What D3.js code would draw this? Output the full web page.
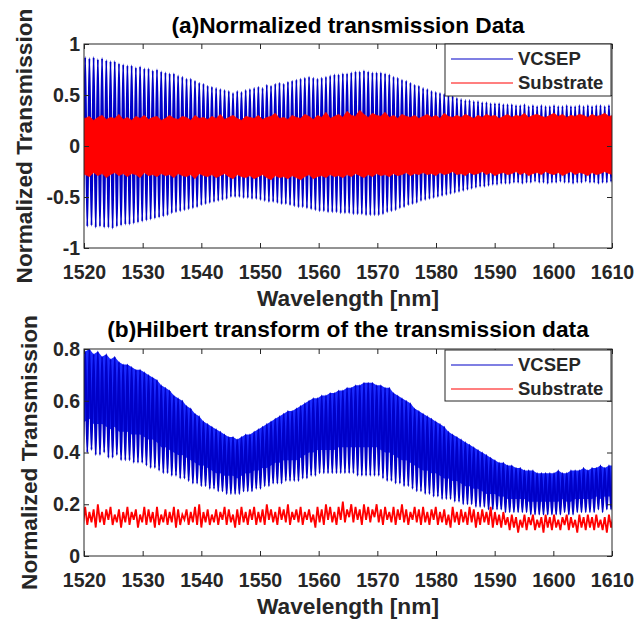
<html>
  <head>
    <meta charset="utf-8" />
    <title>Normalized transmission / Hilbert transform</title>
    <script src="https://d3js.org/d3.v7.min.js"></script>
    <style>
      body { margin: 0; background: #fff; }
      text { font-family: "Liberation Sans", Arial, sans-serif; font-weight: bold; }
    </style>
  </head>
  <body>
    <svg id="chart" width="636" height="622"></svg>

    <script>
      // 0. Data (one value per fringe)
      const fringeNm = [
        1519.48,
        1520.20, 1520.92, 1521.64, 1522.36, 1523.08, 1523.80, 1524.52, 1525.24, 1525.96, 1526.68,
        1527.40, 1528.12, 1528.84, 1529.56, 1530.28, 1531.00, 1531.72, 1532.44, 1533.16, 1533.88,
        1534.60, 1535.32, 1536.04, 1536.76, 1537.48, 1538.20, 1538.92, 1539.64, 1540.36, 1541.08,
        1541.80, 1542.52, 1543.24, 1543.96, 1544.68, 1545.40, 1546.12, 1546.84, 1547.56, 1548.28,
        1549.00, 1549.72, 1550.44, 1551.16, 1551.88, 1552.60, 1553.32, 1554.04, 1554.76, 1555.48,
        1556.20, 1556.92, 1557.64, 1558.36, 1559.08, 1559.80, 1560.52, 1561.24, 1561.96, 1562.68,
        1563.40, 1564.12, 1564.84, 1565.56, 1566.28, 1567.00, 1567.72, 1568.44, 1569.16, 1569.88,
        1570.60, 1571.32, 1572.04, 1572.76, 1573.48, 1574.20, 1574.92, 1575.64, 1576.36, 1577.08,
        1577.80, 1578.52, 1579.24, 1579.96, 1580.68, 1581.40, 1582.12, 1582.84, 1583.56, 1584.28,
        1585.00, 1585.72, 1586.44, 1587.16, 1587.88, 1588.60, 1589.32, 1590.04, 1590.76, 1591.48,
        1592.20, 1592.92, 1593.64, 1594.36, 1595.08, 1595.80, 1596.52, 1597.24, 1597.96, 1598.68,
        1599.40, 1600.12, 1600.84, 1601.56, 1602.28, 1603.00, 1603.72, 1604.44, 1605.16, 1605.88,
        1606.60, 1607.32, 1608.04, 1608.76, 1609.48,
        1610.20
      ];

      // (a) normalized transmission
      const vcselHiA = [
        .86,
        .87, .86, .87, .85, .86, .84, .83, .83, .81, .80, .79, .79, .77, .78, .76, .76, .74, .75, .73, .72,
        .71, .71, .69, .68, .66, .66, .64, .62, .61, .59, .58, .57, .56, .55, .54, .52, .54, .53, .55, .56,
        .57, .58, .57, .60, .59, .61, .62, .61, .63, .64, .65, .66, .67, .68, .67, .66, .67, .68, .69, .70,
        .70, .71, .71, .72, .73, .73, .74, .73, .72, .72, .72, .71, .70, .68, .67, .65, .64, .62, .60, .59,
        .57, .56, .54, .53, .52, .51, .50, .49, .47, .46, .45, .45, .44, .44, .43, .43, .42, .42, .42, .41,
        .41, .41, .40, .40, .41, .39, .40, .39, .40, .39, .39, .40, .39, .39, .40, .39, .39, .40, .39, .40,
        .39, .40, .40, .39, .40,
        .40
      ];
      const vcselLoA = [
        -.78,
        -.79, -.78, -.80, -.79, -.80, -.80, -.81, -.79, -.78, -.77, -.77, -.76, -.75, -.74, -.73, -.72, -.71, -.70, -.69, -.68,
        -.66, -.65, -.64, -.63, -.62, -.61, -.60, -.58, -.57, -.56, -.55, -.54, -.53, -.52, -.50, -.50, -.50, -.51, -.51, -.52,
        -.52, -.53, -.54, -.55, -.55, -.56, -.57, -.57, -.58, -.59, -.60, -.60, -.61, -.62, -.63, -.64, -.64, -.65, -.65, -.65,
        -.66, -.66, -.66, -.67, -.67, -.67, -.68, -.68, -.68, -.68, -.67, -.65, -.64, -.63, -.61, -.60, -.58, -.57, -.56, -.54,
        -.53, -.52, -.51, -.50, -.49, -.48, -.47, -.46, -.45, -.44, -.43, -.42, -.41, -.40, -.40, -.39, -.38, -.38, -.37, -.37,
        -.37, -.36, -.36, -.37, -.36, -.36, -.35, -.36, -.36, -.37, -.36, -.36, -.35, -.36, -.36, -.37, -.36, -.36, -.35, -.36,
        -.36, -.37, -.36, -.36, -.35,
        -.36
      ];
      const substrateHiA = [
        .29,
        .27, .29, .25, .28, .30, .26, .28, .27, .31, .26, .28, .25, .29, .27, .30, .26, .28, .29, .25, .27,
        .30, .27, .26, .29, .28, .25, .30, .27, .28, .26, .29, .27, .31, .26, .28, .30, .27, .25, .29, .28,
        .27, .30, .26, .28, .29, .32, .27, .28, .26, .30, .28, .27, .31, .29, .26, .30, .28, .33, .27, .29,
        .31, .28, .34, .30, .29, .35, .31, .28, .32, .30, .29, .33, .28, .30, .27, .31, .29, .28, .30, .27,
        .29, .31, .28, .30, .27, .32, .29, .28, .30, .28, .31, .29, .27, .30, .28, .31, .29, .30, .27, .29,
        .31, .28, .30, .29, .32, .28, .30, .31, .29, .28, .30, .32, .29, .31, .28, .30, .29, .31, .30, .28,
        .31, .29, .30, .32, .29,
        .30
      ];
      const substrateLoA = [
        -.27,
        -.28, -.30, -.26, -.29, -.27, -.31, -.28, -.26, -.29, -.27, -.30, -.27, -.28, -.31, -.26, -.29, -.28, -.30, -.27, -.29,
        -.28, -.31, -.27, -.29, -.30, -.28, -.32, -.27, -.29, -.30, -.28, -.31, -.29, -.27, -.30, -.32, -.28, -.30, -.31, -.29,
        -.32, -.30, -.28, -.31, -.33, -.29, -.31, -.30, -.32, -.29, -.31, -.33, -.30, -.28, -.32, -.30, -.29, -.31, -.28, -.30,
        -.29, -.31, -.28, -.30, -.27, -.29, -.31, -.28, -.30, -.27, -.29, -.28, -.30, -.27, -.29, -.28, -.26, -.29, -.27, -.28,
        -.26, -.28, -.27, -.29, -.26, -.28, -.27, -.25, -.28, -.27, -.29, -.26, -.28, -.27, -.25, -.28, -.26, -.29, -.27, -.26,
        -.28, -.27, -.25, -.28, -.26, -.29, -.27, -.26, -.28, -.25, -.27, -.28, -.26, -.29, -.27, -.25, -.28, -.26, -.27, -.29,
        -.26, -.28, -.27, -.25, -.27,
        -.28
      ];

      // (b) Hilbert transform
      const vcselHiB = [
        .78,
        .79, .80, .78, .79, .77, .78, .76, .77, .75, .74, .74, .73, .72, .72, .71, .70, .69, .68, .66, .65,
        .64, .62, .61, .60, .58, .57, .55, .54, .52, .51, .50, .49, .48, .47, .46, .46, .45, .46, .47, .47,
        .48, .49, .50, .51, .52, .53, .54, .55, .56, .56, .57, .58, .59, .60, .61, .61, .62, .62, .63, .63,
        .64, .64, .65, .65, .66, .66, .67, .67, .67, .66, .66, .65, .65, .63, .62, .61, .60, .59, .57, .56,
        .55, .54, .53, .52, .51, .50, .48, .47, .46, .45, .44, .43, .42, .41, .40, .39, .38, .37, .36, .36,
        .35, .35, .34, .34, .33, .33, .33, .32, .32, .32, .32, .32, .33, .32, .32, .33, .33, .33, .34, .33,
        .34, .34, .35, .34, .35,
        .35
      ];
      const vcselCoreB = [
        .51,
        .52, .53, .51, .51, .51, .50, .49, .50, .48, .48, .48, .47, .47, .47, .46, .45, .45, .44, .42, .42,
        .41, .40, .39, .39, .38, .37, .36, .35, .35, .34, .33, .32, .32, .31, .31, .31, .30, .31, .32, .32,
        .33, .33, .34, .34, .35, .36, .36, .37, .37, .37, .37, .38, .39, .40, .40, .41, .41, .41, .41, .41,
        .42, .42, .42, .42, .42, .42, .42, .42, .42, .42, .41, .40, .40, .39, .38, .37, .37, .36, .35, .34,
        .33, .33, .32, .32, .31, .30, .30, .29, .29, .28, .27, .27, .26, .26, .25, .24, .24, .24, .23, .23,
        .22, .22, .22, .22, .22, .21, .21, .21, .21, .21, .21, .21, .21, .22, .21, .21, .22, .22, .22, .22,
        .22, .23, .22, .23, .23,
        .23
      ];
      const vcselLoB = [
        .40,
        .40, .41, .39, .39, .40, .38, .38, .39, .37, .37, .37, .36, .36, .36, .35, .34, .34, .33, .32, .32,
        .31, .31, .30, .30, .29, .28, .28, .27, .27, .26, .26, .25, .25, .24, .24, .24, .24, .25, .25, .25,
        .26, .26, .27, .27, .28, .28, .28, .29, .29, .29, .29, .30, .30, .31, .31, .32, .32, .32, .32, .32,
        .32, .32, .32, .32, .31, .31, .31, .31, .31, .31, .30, .29, .29, .28, .28, .27, .27, .26, .25, .25,
        .24, .24, .23, .23, .22, .22, .22, .21, .21, .20, .20, .20, .19, .19, .19, .18, .18, .18, .18, .17,
        .17, .17, .17, .17, .17, .16, .16, .16, .16, .16, .16, .16, .16, .17, .16, .16, .17, .17, .17, .17,
        .17, .18, .17, .18, .18,
        .18
      ];
      const substrateHiB = [
        .18,
        .19, .17, .18, .20, .17, .18, .19, .16, .18, .17, .19, .17, .18, .16, .19, .18, .17, .19, .16, .18,
        .17, .19, .18, .16, .18, .17, .19, .20, .17, .18, .16, .18, .17, .19, .18, .16, .18, .19, .17, .18,
        .19, .17, .18, .20, .18, .17, .19, .18, .20, .17, .18, .19, .17, .18, .16, .19, .18, .20, .19, .17,
        .19, .21, .18, .20, .19, .18, .20, .19, .18, .20, .18, .19, .17, .19, .18, .20, .18, .17, .19, .18,
        .19, .17, .18, .19, .17, .18, .16, .19, .17, .18, .17, .19, .18, .17, .18, .17, .19, .17, .16, .17,
        .15, .16, .15, .14, .16, .15, .16, .14, .15, .16, .15, .16, .14, .15, .16, .15, .14, .16, .15, .16,
        .15, .16, .14, .15, .16,
        .15
      ];
      const substrateLoB = [
        .12,
        .12, .13, .11, .13, .12, .14, .12, .13, .11, .13, .12, .14, .11, .13, .12, .13, .11, .12, .13, .12,
        .13, .11, .12, .14, .12, .13, .12, .11, .13, .12, .13, .12, .14, .12, .13, .11, .12, .13, .12, .14,
        .12, .13, .12, .14, .13, .12, .14, .13, .12, .14, .13, .12, .14, .13, .11, .13, .12, .14, .13, .12,
        .14, .13, .15, .13, .14, .12, .14, .13, .15, .13, .12, .14, .13, .12, .14, .13, .12, .14, .13, .12,
        .13, .12, .14, .12, .13, .12, .11, .13, .12, .13, .12, .13, .11, .12, .13, .12, .11, .12, .11, .12,
        .10, .11, .09, .11, .10, .12, .10, .11, .09, .11, .10, .11, .10, .12, .10, .11, .09, .11, .10, .11,
        .10, .11, .10, .09, .11,
        .10
      ];

      const xTicks = [1520, 1530, 1540, 1550, 1560, 1570, 1580, 1590, 1600, 1610];
      const yTicksA = [-1, -0.5, 0, 0.5, 1];
      const yTicksB = [0, 0.2, 0.4, 0.6, 0.8];
      const seriesNames = ["VCSEP", "Substrate"];

      // 1. Basic setup
      const svg = d3.select("#chart");
      const left = 84, right = 612;
      const blueLine = "#0000c8";
      const blueFill = "#1a2aff";
      const red = "#ff0000";
      const ink = "#262626";

      const x = d3.scaleLinear().domain([1520, 1610]).range([left, right]);

      const panels = [
        {
          key: "a", top: 44, bottom: 248, domain: [-1, 1], ticks: yTicksA,
          title: "(a)Normalized transmission Data", titleY: 33, xlabY: 306, ylabX: 32,
          hi: vcselHiA, lo: vcselLoA, core: null, subHi: substrateHiA, subLo: substrateLoA,
          subBand: true, legTop: 44, legH: 52
        },
        {
          key: "b", top: 349, bottom: 556, domain: [0, 0.8], ticks: yTicksB,
          title: "(b)Hilbert transform of the transmission data", titleY: 337, xlabY: 614, ylabX: 37,
          hi: vcselHiB, lo: vcselLoB, core: vcselCoreB, subHi: substrateHiB, subLo: substrateLoB,
          subBand: false, legTop: 350, legH: 51
        }
      ];

      // zigzag through each fringe: peak at fringeNm[i], dip halfway to the next fringe
      function fringePoints(hi, lo) {
        const pts = [];
        fringeNm.forEach((nm, i) => {
          const next = i < fringeNm.length - 1 ? fringeNm[i + 1] : nm + (nm - fringeNm[i - 1]);
          pts.push([nm, hi[i]]);
          pts.push([(nm + next) / 2, lo[i]]);
        });
        return pts;
      }

      panels.forEach((p) => {
        const y = d3.scaleLinear().domain(p.domain).range([p.bottom, p.top]);
        const g = svg.append("g").attr("class", "panel-" + p.key);

        g.append("clipPath")
          .attr("id", "clip-" + p.key)
          .append("rect")
          .attr("x", left)
          .attr("y", p.top)
          .attr("width", right - left)
          .attr("height", p.bottom - p.top);

        const plot = g.append("g").attr("clip-path", "url(#clip-" + p.key + ")");
        const line = d3.line()
          .x((d) => x(d[0]))
          .y((d) => y(d[1]));

        // 2. VCSEP (blue) - solid core first (only panel b), then the fringe line
        if (p.core) {
          plot.append("path")
            .datum(fringeNm)
            .attr("fill", blueFill)
            .attr("d", d3.area()
              .x((d) => x(d))
              .y0((d, i) => y(p.core[i]))
              .y1((d, i) => y(p.hi[i])));
        }
        plot.append("path")
          .datum(fringePoints(p.hi, p.lo))
          .attr("fill", "none")
          .attr("stroke", blueLine)
          .attr("stroke-width", 2)
          .attr("d", line.curve(d3.curveMonotoneX));

        // 3. Substrate (red) on top: solid band in (a), noisy trace in (b)
        if (p.subBand) {
          plot.append("path")
            .datum(fringeNm)
            .attr("fill", red)
            .attr("stroke", red)
            .attr("stroke-width", 0.8)
            .attr("d", d3.area()
              .x((d) => x(d))
              .y0((d, i) => y(p.subLo[i]))
              .y1((d, i) => y(p.subHi[i])));
        } else {
          plot.append("path")
            .datum(fringePoints(p.subHi, p.subLo))
            .attr("fill", "none")
            .attr("stroke", red)
            .attr("stroke-width", 1.8)
            .attr("d", line.curve(d3.curveLinear));
        }

        // 4. Axes with inward ticks on all four sides (MATLAB box style)
        const styleAxis = (sel) => {
          sel.select(".domain").remove();
          sel.selectAll(".tick line").attr("stroke", ink);
          sel.selectAll("text")
            .attr("fill", ink)
            .style("font-family", '"Liberation Sans", Arial, sans-serif')
            .style("font-weight", "bold")
            .style("font-size", "19.5px");
        };

        g.append("g")
          .attr("transform", "translate(0," + p.bottom + ")")
          .call(d3.axisBottom(x).tickValues(xTicks).tickSizeInner(-5).tickSizeOuter(0)
            .tickPadding(17).tickFormat(d3.format("d")))
          .call(styleAxis);
        g.append("g")
          .attr("transform", "translate(0," + p.top + ")")
          .call(d3.axisTop(x).tickValues(xTicks).tickSizeInner(-5).tickSizeOuter(0).tickFormat(""))
          .call(styleAxis);
        g.append("g")
          .attr("transform", "translate(" + left + ",0)")
          .call(d3.axisLeft(y).tickValues(p.ticks).tickSizeInner(-5).tickSizeOuter(0)
            .tickPadding(4).tickFormat((d) => String(d)))
          .call(styleAxis);
        g.append("g")
          .attr("transform", "translate(" + right + ",0)")
          .call(d3.axisRight(y).tickValues(p.ticks).tickSizeInner(-5).tickSizeOuter(0).tickFormat(""))
          .call(styleAxis);

        g.append("rect")
          .attr("x", left)
          .attr("y", p.top)
          .attr("width", right - left)
          .attr("height", p.bottom - p.top)
          .attr("fill", "none")
          .attr("stroke", ink)
          .attr("stroke-width", 1);

        // 5. Title and axis labels
        g.append("text")
          .attr("x", (left + right) / 2)
          .attr("y", p.titleY)
          .attr("text-anchor", "middle")
          .attr("fill", "#000")
          .style("font-size", "22.7px")
          .text(p.title);
        g.append("text")
          .attr("x", (left + right) / 2)
          .attr("y", p.xlabY)
          .attr("text-anchor", "middle")
          .attr("fill", ink)
          .style("font-size", "22.7px")
          .text("Wavelength [nm]");
        g.append("text")
          .attr("transform", "translate(" + p.ylabX + "," + (p.top + p.bottom) / 2 + ") rotate(-90)")
          .attr("text-anchor", "middle")
          .attr("fill", ink)
          .style("font-size", "22.7px")
          .text("Normalized Transmission");

        // 6. Legend box
        const leg = g.append("g").attr("transform", "translate(445," + p.legTop + ")");
        leg.append("rect")
          .attr("width", 166)
          .attr("height", p.legH)
          .attr("fill", "#fff")
          .attr("stroke", ink)
          .attr("stroke-width", 1);
        seriesNames.forEach((name, i) => {
          const rowY = 15 + i * 24;
          leg.append("line")
            .attr("x1", 6)
            .attr("x2", 68)
            .attr("y1", rowY)
            .attr("y2", rowY)
            .attr("stroke", i === 0 ? blueLine : red)
            .attr("stroke-width", 1.2);
          leg.append("text")
            .attr("x", 73)
            .attr("y", rowY)
            .attr("dy", "0.35em")
            .attr("fill", ink)
            .style("font-size", "18.5px")
            .text(name);
        });
      });
    </script>
  </body>
</html>
